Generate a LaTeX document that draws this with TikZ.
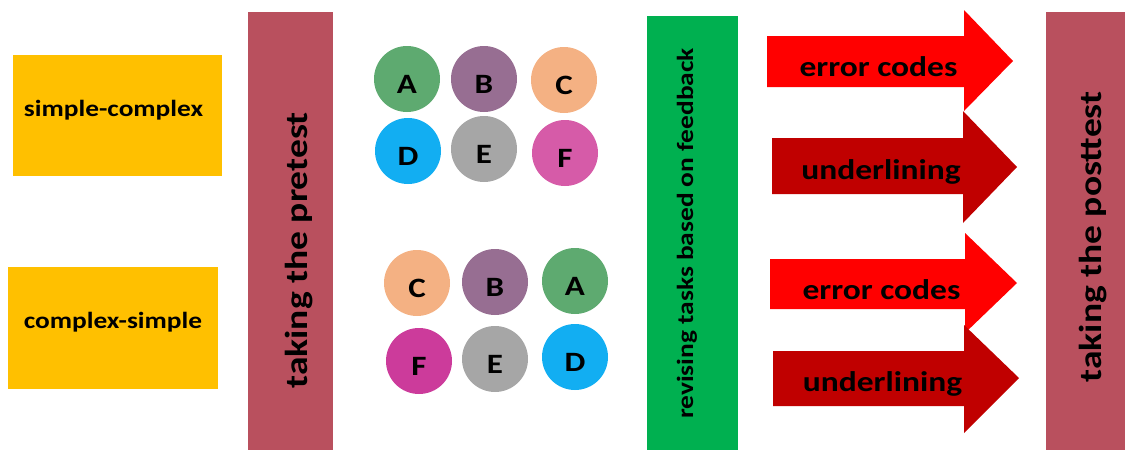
\documentclass[tikz,border=0pt]{standalone}
\usepackage{fontspec}
\setmainfont{Carlito}
\newfontfamily\widefont[FakeStretch=1.18]{Carlito}
\definecolor{boxyellow}{HTML}{FFC000}
\definecolor{barrose}{HTML}{B9505E}
\definecolor{bargreen}{HTML}{00B050}
\definecolor{arrred}{HTML}{FF0000}
\definecolor{arrdark}{HTML}{C00000}
\definecolor{cA}{HTML}{5EAA70}
\definecolor{cB}{HTML}{976E92}
\definecolor{cC}{HTML}{F4B183}
\definecolor{cD}{HTML}{12AEF2}
\definecolor{cE}{HTML}{A6A6A6}
\definecolor{cF}{HTML}{D65BA8}
\definecolor{cFb}{HTML}{CC3B9B}
\tikzset{
  labeltext/.style={font=\widefont\bfseries\fontsize{23.2}{28}\selectfont, text=black},
  bartext/.style={font=\widefont\bfseries\fontsize{31.8}{38}\selectfont, text=black, rotate=90},
  gbartext/.style={font=\widefont\bfseries\fontsize{23.2}{28}\selectfont, text=black, rotate=90},
  arrtext/.style={font=\widefont\bfseries\fontsize{28.4}{34}\selectfont, text=black},
  ball/.style={circle, minimum size=66pt, inner sep=0pt, text height=28pt, text depth=0pt,
    font=\widefont\bfseries\fontsize{28}{30}\selectfont, text=black},
}
\begin{document}
\begin{tikzpicture}[x=1pt, y=-1pt]
\useasboundingbox (0,0) rectangle (1125,450);
% order boxes
\fill[boxyellow] (13,55) rectangle (222,176);
\node[labeltext] (sc) at (113.5,110) {simple-complex};
\fill[boxyellow] (8,267) rectangle (218,389);
\node[labeltext] (cs) at (113,322.5) {complex-simple};
% pretest bar
\fill[barrose] (248,12) rectangle (333,450);
\node[bartext] (pre) at (299,250.5) {taking the pretest};
% circles top
\node[ball, fill=cA] (a1) at (407,79) {A};
\node[ball, fill=cB] (b1) at (484,79) {B};
\node[ball, fill=cC] (c1) at (564,80) {C};
\node[ball, fill=cD] (d1) at (408,151) {D};
\node[ball, fill=cE] (e1) at (484,149) {E};
\node[ball, fill=cF] (f1) at (565,153) {F};
% circles bottom
\node[ball, fill=cC] (c2) at (417,283) {C};
\node[ball, fill=cB] (b2) at (495,282) {B};
\node[ball, fill=cA] (a2) at (575,281) {A};
\node[ball, fill=cFb] (f2) at (419,361) {F};
\node[ball, fill=cE] (e2) at (495,359) {E};
\node[ball, fill=cD] (d2) at (575,357) {D};
% green bar
\fill[bargreen] (647,16) rectangle (738,450);
\node[gbartext] (rev) at (687,233.5) {revising tasks based on feedback};
% arrows
\fill[arrred] (767,36) -- (964,36) -- (964,10) -- (1013,61) -- (964,111) -- (964,87) -- (767,87) -- cycle;
\node[arrtext] (ec1) at (878.5,66.5) {error codes};
\fill[arrdark] (772,138) -- (963,138) -- (963,111) -- (1017,167) -- (963,223) -- (963,194) -- (772,194) -- cycle;
\node[arrtext] (ul1) at (881,172) {underlining};
\fill[arrred] (770,259) -- (965,259) -- (965,233) -- (1017,283) -- (965,333) -- (965,309) -- (770,309) -- cycle;
\node[arrtext] (ec2) at (881.5,289.5) {error codes};
\fill[arrdark] (773,351) -- (964,351) -- (964,325) -- (1019,378) -- (964,433) -- (964,406) -- (773,406) -- cycle;
\node[arrtext] (ul2) at (882.5,383.5) {underlining};
% posttest bar
\fill[barrose] (1046,12) rectangle (1125,450);
\node[bartext] (post) at (1093,237) {taking the posttest};
\end{tikzpicture}
\end{document}
